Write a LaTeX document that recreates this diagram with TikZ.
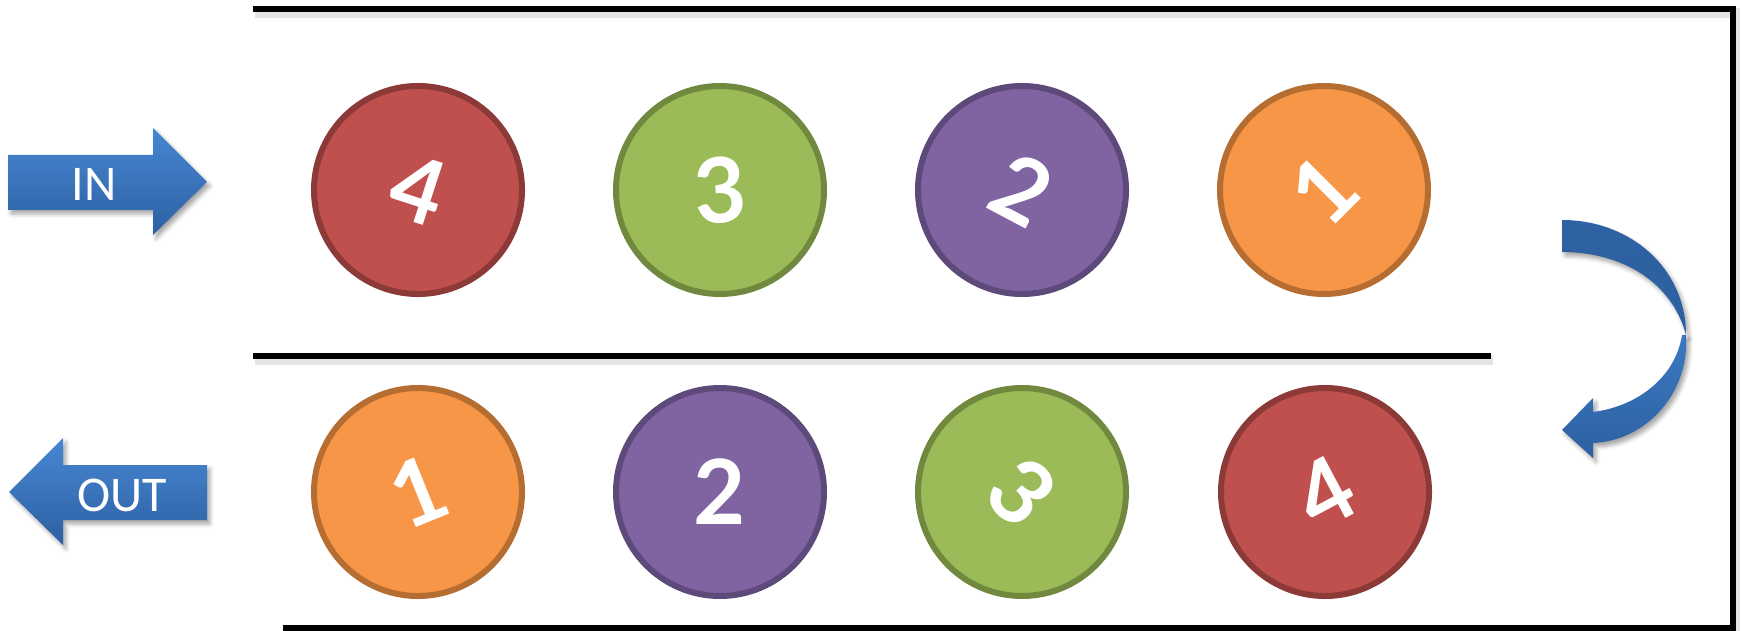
\documentclass[tikz,border=0pt]{standalone}
\usepackage{fontspec}
\setmainfont{Carlito}
\newfontfamily\digitfont{Lato}
\usetikzlibrary{shadows.blur}
\definecolor{cred}{HTML}{C0504D}
\definecolor{credd}{HTML}{8C3A38}
\definecolor{cgreen}{HTML}{9BBB59}
\definecolor{cgreend}{HTML}{71893F}
\definecolor{cpurple}{HTML}{8064A2}
\definecolor{cpurpled}{HTML}{5E4A7A}
\definecolor{corange}{HTML}{F79646}
\definecolor{corangedd}{HTML}{B66D31}
\definecolor{blight}{HTML}{4787D3}
\definecolor{bdark}{HTML}{2D60A2}
\definecolor{bband}{HTML}{2E62A2}
\definecolor{bbandl}{HTML}{3C79C1}
\begin{document}
\begin{tikzpicture}[x=1pt,y=-1pt,
  ball/.style={circle, line width=6pt, minimum size=208pt, inner sep=0pt, text=white,
    font=\digitfont\bfseries\fontsize{90}{90}\selectfont},
  redball/.style={ball, fill=cred, draw=credd},
  greenball/.style={ball, fill=cgreen, draw=cgreend},
  purpleball/.style={ball, fill=cpurple, draw=cpurpled},
  orangeball/.style={ball, fill=corange, draw=corangedd},
  wall/.style={line width=6.5pt, black, line join=miter},
  wallshadow/.style={line width=10pt, black, opacity=0.10, line join=miter},
  flatarrow/.style={top color=blight, bottom color=bdark, draw=none,
    blur shadow={shadow xshift=3pt, shadow yshift=-4pt, shadow blur radius=4pt, shadow opacity=35}},
  arrowtext/.style={text=white, font=\fontsize{50}{50}\selectfont, inner sep=0pt},
  bandup/.style={top color=bband, bottom color=bdark, draw=none,
    blur shadow={shadow xshift=3pt, shadow yshift=-4pt, shadow blur radius=4pt, shadow opacity=35}},
  banddown/.style={top color=bbandl, bottom color=bdark, draw=none,
    blur shadow={shadow xshift=3pt, shadow yshift=-4pt, shadow blur radius=4pt, shadow opacity=35}}
]
\useasboundingbox (0,0) rectangle (1741,631);

% walls
\coordinate (tl) at (253,9);
\coordinate (tr) at (1733,9);
\coordinate (br) at (1733,628);
\coordinate (bl) at (283,628);
\coordinate (ml) at (253,356);
\coordinate (mr) at (1491,356);
\draw[wallshadow] ([shift={(2,4)}]tl) -- ([shift={(2,4)}]tr) -- ([shift={(2,4)}]br);
\draw[wallshadow] ([shift={(2,4)}]ml) -- ([shift={(2,4)}]mr);
\draw[wall] (tl) -- (tr) -- (br) -- (bl);
\draw[wall] (ml) -- (mr);

% IN arrow
\path[flatarrow] (8,155) -- (153,155) -- (153,128) -- (207,182) -- (153,235) -- (153,210) -- (8,210) -- cycle;
\node[arrowtext] (in) at (94,184) {IN};

% OUT arrow
\path[flatarrow] (207,465) -- (63,465) -- (63,438) -- (9,492) -- (63,545) -- (63,520) -- (207,520) -- cycle;
\node[arrowtext] (out) at (122,495) {OUT};

% curved arrow
\path[banddown] (1686,335) .. controls (1690,394) and (1645,441) .. (1593,443)
  -- (1593,458) -- (1562,430) -- (1593,398) -- (1593,412)
  .. controls (1640,406) and (1676,375) .. (1682,335) -- cycle;
\path[bandup] (1562,220) .. controls (1630,220) and (1686,268) .. (1686,335)
  .. controls (1672,282) and (1622,252) .. (1562,252) -- cycle;

% top row
\node[redball, rotate=-18] (t4) at (418,190) {4};
\node[greenball, rotate=4] (t3) at (720,190) {3};
\node[purpleball, rotate=-28] (t2) at (1022,190) {2};
\node[orangeball, rotate=45] (t1) at (1324,190) {1};

% bottom row
\node[orangeball, rotate=22] (b1) at (418,492) {1};
\node[purpleball] (b2) at (720,492) {2};
\node[greenball, rotate=-45] (b3) at (1022,492) {3};
\node[redball, rotate=28] (b4) at (1325,492) {4};
\end{tikzpicture}
\end{document}
